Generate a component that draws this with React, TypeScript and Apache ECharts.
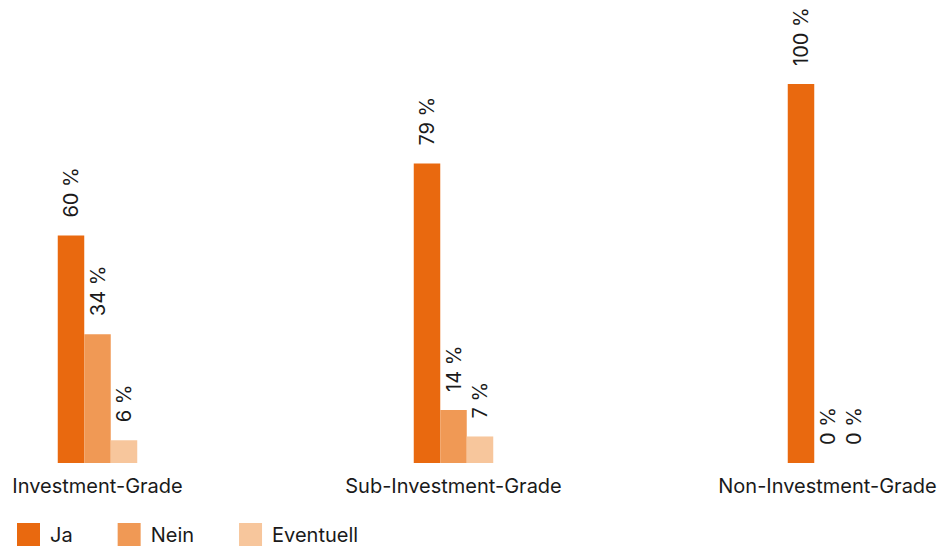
import React, { useEffect, useRef } from "react";
import * as echarts from "echarts";

const categories = ["Investment-Grade", "Sub-Investment-Grade", "Non-Investment-Grade"];
const seriesNames = ["Ja", "Nein", "Eventuell"];
const ja = [60, 79, 100];
const nein = [34, 14, 0];
const eventuell = [6, 7, 0];
const colors = ["#E9690F", "#F09955", "#F7C69C"];

const FONT = "Inter";
const gridLefts = [7.5, 363.5, 737.5];
const gridWidth = 180;

export default function App() {
  const ref = useRef<HTMLDivElement>(null);
  useEffect(() => {
    if (!ref.current) return;
    const chart = echarts.init(ref.current, undefined, { renderer: "svg" });
    const values = [ja, nein, eventuell];
    const grids = categories.map((_, i) => ({
      left: gridLefts[i],
      width: gridWidth,
      top: 84,
      height: 379,
    }));
    const xAxes = categories.map((c, i) => ({
      type: "category",
      gridIndex: i,
      data: [c],
      axisLine: { show: false },
      axisTick: { show: false },
      axisLabel: {
        color: "#1a1a1a",
        fontSize: 20,
        fontFamily: FONT,
        margin: 13,
        interval: 0,
      },
    }));
    const yAxes = categories.map((_, i) => ({
      type: "value",
      gridIndex: i,
      min: 0,
      max: 100,
      show: false,
    }));
    const series: any[] = [];
    categories.forEach((_, ci) => {
      seriesNames.forEach((name, si) => {
        series.push({
          type: "bar",
          name,
          xAxisIndex: ci,
          yAxisIndex: ci,
          data: [values[si][ci]],
          barWidth: 26.5,
          barGap: "0%",
          itemStyle: { color: colors[si] },
          label: {
            show: true,
            position: "top",
            rotate: 90,
            align: "left",
            verticalAlign: "middle",
            distance: 18,
            formatter: "{c} %",
            color: "#1a1a1a",
            fontSize: 20,
            fontFamily: FONT,
          },
        });
      });
    });
    chart.setOption({
      animation: false,
      color: colors,
      grid: grids,
      xAxis: xAxes,
      yAxis: yAxes,
      legend: {
        data: seriesNames,
        left: 12,
        top: 518,
        icon: "rect",
        itemWidth: 23,
        itemHeight: 23,
        itemGap: 45,
        selectedMode: false,
        textStyle: {
          color: "#1a1a1a",
          fontSize: 20,
          fontFamily: FONT,
          padding: [0, 0, 0, 5],
        },
      },
      series,
    });
    return () => chart.dispose();
  }, []);
  return (
    <div
      ref={ref}
      style={{ position: "fixed", left: 0, top: 0, width: 941, height: 547, background: "#fff" }}
    />
  );
}
